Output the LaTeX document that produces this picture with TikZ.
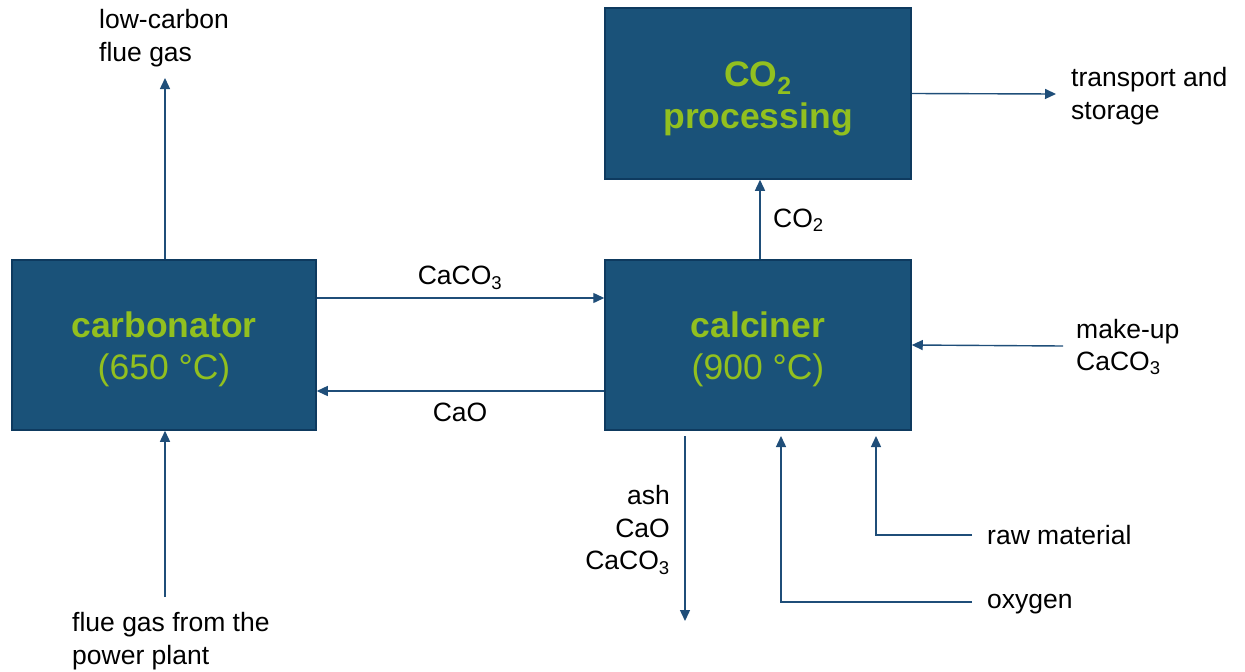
\documentclass[tikz,border=0pt]{standalone}
\usepackage{fontspec}
\setmainfont{Liberation Sans}
\usetikzlibrary{arrows.meta,positioning}
\definecolor{boxfill}{HTML}{1A5279}
\definecolor{boxline}{HTML}{0E3A5F}
\definecolor{lime}{HTML}{92C01F}
\definecolor{flow}{HTML}{1F4E79}
\tikzset{
  unit/.style={draw=boxline, line width=1.5pt, fill=boxfill, minimum width=304pt,
    minimum height=170pt, inner sep=0pt},
  unittext/.style={inner sep=0pt, align=center, text=lime,
    font=\fontsize{35.5}{42}\selectfont},
  arr/.style={draw=flow, line width=1.4pt, -{Triangle[length=11pt,width=10pt]}},
  lbl/.style={inner sep=0pt, font=\fontsize{26.5}{32.5}\selectfont},
}
\begin{document}
\begin{tikzpicture}[x=1pt,y=-1pt]
\useasboundingbox (0,0) rectangle (1245,672);

% process units
\node[unit] (carb) at (164,345) {};
\node[unit, minimum width=306pt] (calc) at (758,345) {};
\node[unit, minimum width=306pt, minimum height=171pt] (proc) at (758,93.5) {};
\node[unittext] (carbtxt) at ([yshift=-4pt]carb.center) {\textbf{carbonator}\\(650 °C)};
\node[unittext] (calctxt) at ([yshift=-4pt]calc.center) {\textbf{calciner}\\(900 °C)};
\node[unittext] (proctxt) at ([yshift=-5pt]proc.center)
  {\textbf{CO\textsubscript{2}}\\\textbf{processing}};

% stream labels
\node[lbl, align=left, anchor=west] (lcgas) at (99,38) {low-carbon\\flue gas};
\node[lbl, align=left, anchor=west] (fgas) at (72,641) {flue gas from the\\power plant};
\node[lbl] (lcaco) at (460,278) {CaCO\textsubscript{3}};
\node[lbl] (lcao) at (460,412) {CaO};
\node[lbl, anchor=west] (lco2) at (773,220) {CO\textsubscript{2}};
\node[lbl, align=left, anchor=west] (ltrans) at (1071,96) {transport and\\storage};
\node[lbl, align=left, anchor=west] (lmake) at (1076,347) {make-up\\CaCO\textsubscript{3}};
\node[lbl, align=right, anchor=east] (lash) at (670,530) {ash\\CaO\\CaCO\textsubscript{3}};
\node[lbl, anchor=west] (lraw) at (987,535) {raw material};
\node[lbl, anchor=west] (loxy) at (987,604) {oxygen};

% free ends of the streams
\coordinate (lcEnd) at (165,78);
\coordinate (fgStart) at (165,597);
\coordinate (trEnd) at (1056,94);
\coordinate (mkStart) at (1063,346);
\coordinate (ashStart) at (685,436);
\coordinate (ashEnd) at (685,621);
\coordinate (oxStart) at (972,602);
\coordinate (oxIn) at (781,436);
\coordinate (rawStart) at (972,535);
\coordinate (rawIn) at (876,436);

% streams
\draw[arr] (carb.north -| lcEnd) -- (lcEnd);
\draw[arr] (fgStart) -- (carb.south -| fgStart);
\draw[arr] ([yshift=47pt]carb.east) -- ([yshift=47pt]calc.west);
\draw[arr] ([yshift=-46pt]calc.west) -- ([yshift=-46pt]carb.east);
\draw[arr] ([xshift=2pt]calc.north) -- ([xshift=2pt]proc.south);
\draw[arr] (proc.east) -- (trEnd);
\draw[arr] (mkStart) -- (calc.east);
\draw[arr] (ashStart) -- (ashEnd);
\draw[arr] (oxStart) -| (oxIn);
\draw[arr] (rawStart) -| (rawIn);
\end{tikzpicture}
\end{document}
